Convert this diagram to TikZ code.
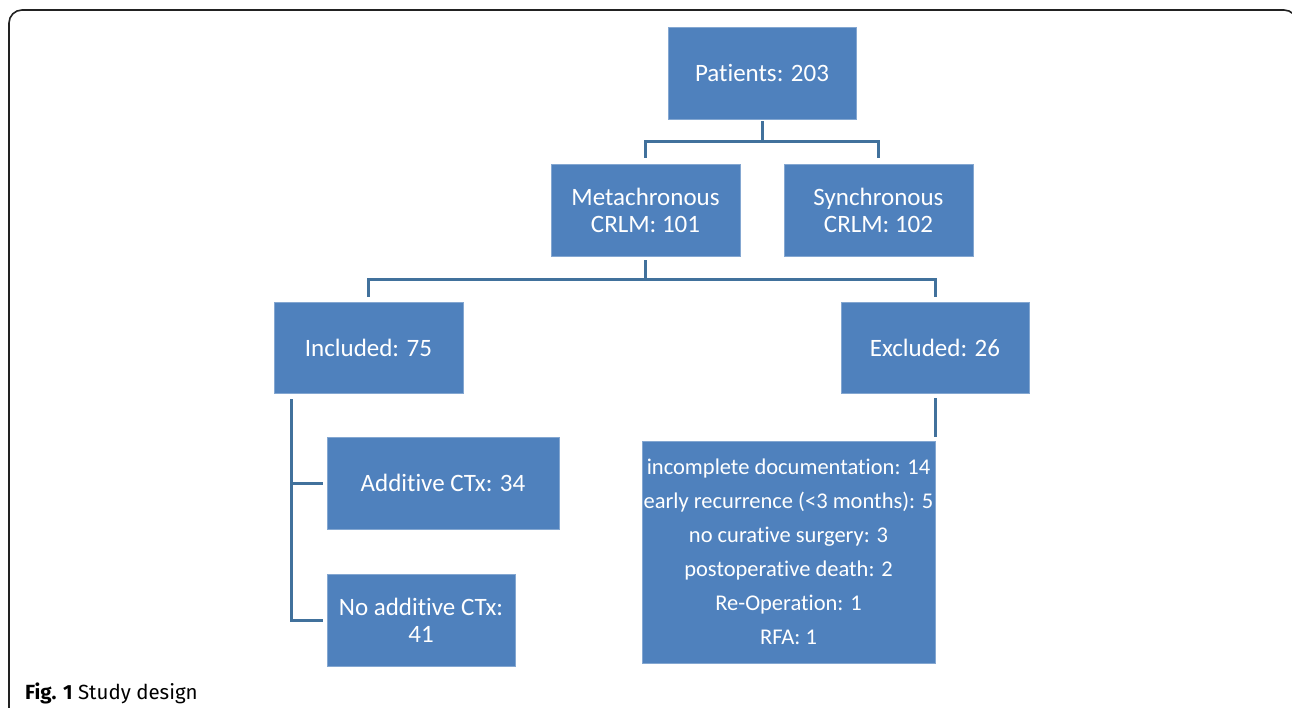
\documentclass[tikz,border=0pt]{standalone}
\usepackage{fontspec}
\setmainfont[Ligatures={NoCommon}]{Carlito}
\newfontfamily\capfont{Fira Sans}
\definecolor{boxfill}{HTML}{4F81BD}
\definecolor{connline}{HTML}{41719C}
\definecolor{framecol}{HTML}{222222}
\begin{document}
\begin{tikzpicture}[x=1pt,y=-1pt,
  box/.style={rectangle, fill=boxfill, draw=boxfill!70!white, line width=0.6pt, text=white, align=center, inner sep=0pt, font=\fontsize{25}{27}\selectfont},
  listbox/.style={box, font=\fontsize{22.5}{34}\selectfont},
  conn/.style={draw=connline, line width=3pt}]
\useasboundingbox (0,0) rectangle (1292,708);
\draw[framecol, line width=1.6pt, rounded corners=13pt] (9,720) -- (9,10) -- (1297,10) -- (1297,720);

\node[box, minimum width=188pt, minimum height=92pt] (pat) at (762,73) {Patients: 203};
\node[box, minimum width=189pt, minimum height=92pt] (meta) at (645.5,210) {Metachronous\\CRLM: 101};
\node[box, minimum width=189pt, minimum height=92pt] (syn) at (878.5,210) {Synchronous\\CRLM: 102};
\node[box, minimum width=189pt, minimum height=91pt] (inc) at (368.5,347.5) {Included: 75};
\node[box, minimum width=188pt, minimum height=91pt] (exc) at (935,347.5) {Excluded: 26};
\node[box, minimum width=232pt, minimum height=92pt] (addcx) at (443,483) {Additive CTx: 34};
\node[box, minimum width=188pt, minimum height=92pt] (nocx) at (421,620) {No additive CTx:\\41};
\node[listbox, minimum width=293pt, minimum height=222pt] (list) at (788.5,552) {incomplete documentation: 14\\early recurrence (<3 months): 5\\no curative surgery: 3\\postoperative death: 2\\Re-Operation: 1\\RFA: 1};

\draw[conn] ([yshift=-2pt]pat.south) -- ++(0,20) coordinate (j1);
\draw[conn] ([yshift=6pt]meta.north) |- (j1) -| ([yshift=6pt]syn.north);
\draw[conn] ([yshift=-4pt]meta.south) -- ++(0,19) coordinate (j2);
\draw[conn] ([yshift=5pt]inc.north) |- (j2) -| ([yshift=5pt]exc.north);
\coordinate (v) at ([xshift=-77.5pt,yshift=-6pt]inc.south);
\draw[conn] (v) |- ([xshift=-4pt]nocx.west);
\draw[conn] ([xshift=-4pt]addcx.west) -- (addcx.west -| v);
\draw[conn] ([yshift=-5pt]exc.south) -- ([yshift=4pt]exc.south |- list.north);

\node[anchor=base west, inner sep=0pt, font=\capfont\fontsize{20.5}{23}\selectfont] (cap) at (25,699) {\textbf{Fig. 1} Study design};
\end{tikzpicture}
\end{document}
